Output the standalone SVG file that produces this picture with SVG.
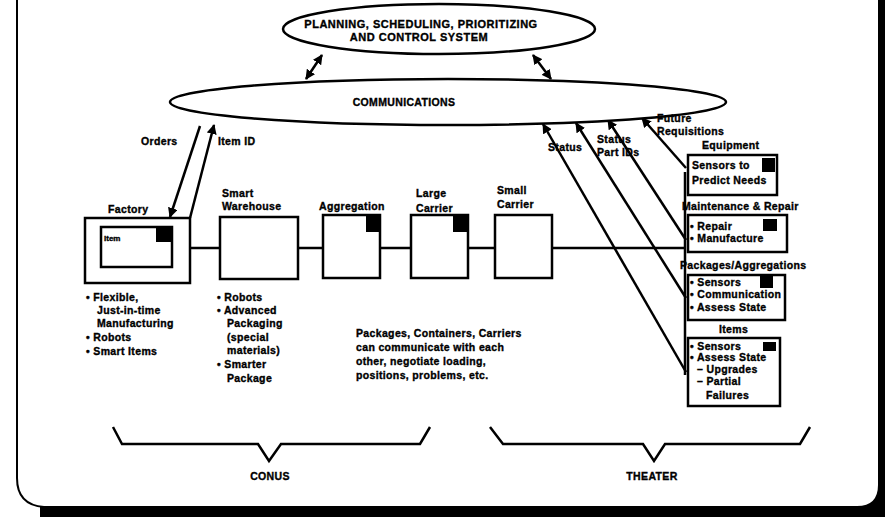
<svg xmlns="http://www.w3.org/2000/svg" width="885" height="520" viewBox="0 0 885 520">
<defs>
<style>
.t{font-family:"Liberation Sans",Arial,sans-serif;font-weight:bold;font-size:10.5px;letter-spacing:0.35px;fill:#000;stroke:#000;stroke-width:0.35px}
.h{font-size:11px;letter-spacing:0.5px}
.s{font-size:8px;letter-spacing:0}
.box{fill:#fff;stroke:#000;stroke-width:2.5}
.ln{stroke:#000;stroke-width:2.5;fill:none}
.sq{fill:#000}
</style>
<marker id="ah" viewBox="0 0 10 10" refX="9" refY="5" markerWidth="4" markerHeight="4" orient="auto-start-reverse">
<path d="M0,0 L10,5 L0,10 Z" fill="#000"/>
</marker>
</defs>
<rect width="885" height="520" fill="#fff"/>
<g id="frame">
<path d="M17,0 V478 Q17,505 44,507" fill="none" stroke="#000" stroke-width="2"/>
<path d="M40,506 H857 Q878,506 878,485 V0 H885 V517 H40 Z" fill="#000"/>
</g>
<g id="connectors">
<line class="ln" x1="322" y1="55" x2="306" y2="79" marker-start="url(#ah)" marker-end="url(#ah)"/>
<line class="ln" x1="533" y1="55" x2="551" y2="79" marker-start="url(#ah)" marker-end="url(#ah)"/>
<line class="ln" x1="200" y1="126" x2="170" y2="217" marker-end="url(#ah)"/>
<line class="ln" x1="190" y1="218" x2="214" y2="125" marker-end="url(#ah)"/>
<line class="ln" x1="686" y1="372" x2="543" y2="124" marker-end="url(#ah)"/>
<line class="ln" x1="686" y1="298" x2="576" y2="123" marker-end="url(#ah)"/>
<line class="ln" x1="686" y1="240" x2="608" y2="120" marker-end="url(#ah)"/>
<line class="ln" x1="686" y1="168" x2="642" y2="118" marker-end="url(#ah)"/>
<line class="ln" x1="190" y1="248" x2="686" y2="248"/>
<line class="ln" x1="685" y1="172" x2="685" y2="375"/>
</g>
<g id="planning">
<ellipse cx="439" cy="29" rx="156" ry="25" fill="#fff" stroke="#000" stroke-width="2.5"/>
<text class="t h" x="421" y="28" text-anchor="middle">PLANNING, SCHEDULING, PRIORITIZING</text>
<text class="t h" x="419" y="41" text-anchor="middle">AND CONTROL SYSTEM</text>
</g>
<g id="communications">
<ellipse cx="448" cy="102" rx="278" ry="23" fill="#fff" stroke="#000" stroke-width="2.5"/>
<text class="t" x="404" y="106" text-anchor="middle">COMMUNICATIONS</text>
</g>
<g id="labels">
<text class="t" x="141" y="145">Orders</text>
<text class="t" x="218" y="145">Item ID</text>
<text class="t" x="548" y="151">Status</text>
<text class="t" x="597" y="143">Status</text>
<text class="t" x="597" y="156">Part IDs</text>
<text class="t" x="657" y="122">Future</text>
<text class="t" x="657" y="135">Requisitions</text>
</g>
<g id="factory">
<text class="t" x="108" y="213">Factory</text>
<rect class="box" x="85" y="218" width="105" height="65"/>
<rect class="box" x="101" y="227" width="71" height="40"/>
<rect class="sq" x="156" y="227" width="16" height="15"/>
<text class="t s" x="104" y="241">Item</text>
<text class="t" x="86" y="301">• Flexible,</text>
<text class="t" x="97" y="314">Just-in-time</text>
<text class="t" x="97" y="327">Manufacturing</text>
<text class="t" x="86" y="341">• Robots</text>
<text class="t" x="86" y="355">• Smart Items</text>
</g>
<g id="warehouse">
<text class="t" x="222" y="197">Smart</text>
<text class="t" x="222" y="210">Warehouse</text>
<rect class="box" x="220" y="217" width="78" height="62"/>
<text class="t" x="217" y="301">• Robots</text>
<text class="t" x="217" y="314">• Advanced</text>
<text class="t" x="227" y="327">Packaging</text>
<text class="t" x="227" y="341">(special</text>
<text class="t" x="227" y="354">materials)</text>
<text class="t" x="217" y="368">• Smarter</text>
<text class="t" x="227" y="382">Package</text>
</g>
<g id="aggregation">
<text class="t" x="319" y="210">Aggregation</text>
<rect class="box" x="323" y="215" width="57" height="63"/>
<rect class="sq" x="366" y="215" width="14" height="17"/>
</g>
<g id="large-carrier">
<text class="t" x="416" y="197">Large</text>
<text class="t" x="416" y="212">Carrier</text>
<rect class="box" x="411" y="215" width="57" height="63"/>
<rect class="sq" x="453" y="215" width="15" height="17"/>
</g>
<g id="small-carrier">
<text class="t" x="497" y="194">Small</text>
<text class="t" x="497" y="208">Carrier</text>
<rect class="box" x="495" y="215" width="57" height="63"/>
</g>
<g id="note">
<text class="t" x="356" y="337">Packages,  Containers, Carriers</text>
<text class="t" x="356" y="351">can communicate with each</text>
<text class="t" x="356" y="365">other, negotiate loading,</text>
<text class="t" x="356" y="379">positions, problems, etc.</text>
</g>
<g id="equipment">
<text class="t" x="702" y="149">Equipment</text>
<rect class="box" x="688" y="155" width="89" height="40"/>
<rect class="sq" x="762" y="158" width="13" height="14"/>
<text class="t" x="692" y="169">Sensors to</text>
<text class="t" x="692" y="184">Predict Needs</text>
</g>
<g id="maintenance">
<text class="t" x="682" y="210">Maintenance &amp; Repair</text>
<rect class="box" x="688" y="215" width="99" height="37"/>
<rect class="sq" x="763" y="219" width="14" height="12"/>
<text class="t" x="690" y="230">• Repair</text>
<text class="t" x="690" y="242">• Manufacture</text>
</g>
<g id="packages">
<text class="t" x="680" y="269">Packages/Aggregations</text>
<rect class="box" x="688" y="275" width="97" height="45"/>
<rect class="sq" x="760" y="275" width="13" height="13"/>
<text class="t" x="690" y="286">• Sensors</text>
<text class="t" x="690" y="298">• Communication</text>
<text class="t" x="690" y="311">• Assess State</text>
</g>
<g id="items">
<text class="t" x="719" y="333">Items</text>
<rect class="box" x="688" y="338" width="92" height="68"/>
<rect class="sq" x="763" y="342" width="13" height="9"/>
<text class="t" x="690" y="350">• Sensors</text>
<text class="t" x="690" y="361">• Assess State</text>
<text class="t" x="697" y="373">– Upgrades</text>
<text class="t" x="697" y="385">– Partial</text>
<text class="t" x="706" y="399">Failures</text>
</g>
<g id="conus">
<path class="ln" d="M113,427 L122,444 H258 L269,461 L281,444 H420 L430,427"/>
<text class="t" x="270" y="480" text-anchor="middle">CONUS</text>
</g>
<g id="theater">
<path class="ln" d="M490,427 L503,444 H643 L654,461 L665,444 H800 L810,427"/>
<text class="t" x="652" y="480" text-anchor="middle">THEATER</text>
</g>
</svg>
